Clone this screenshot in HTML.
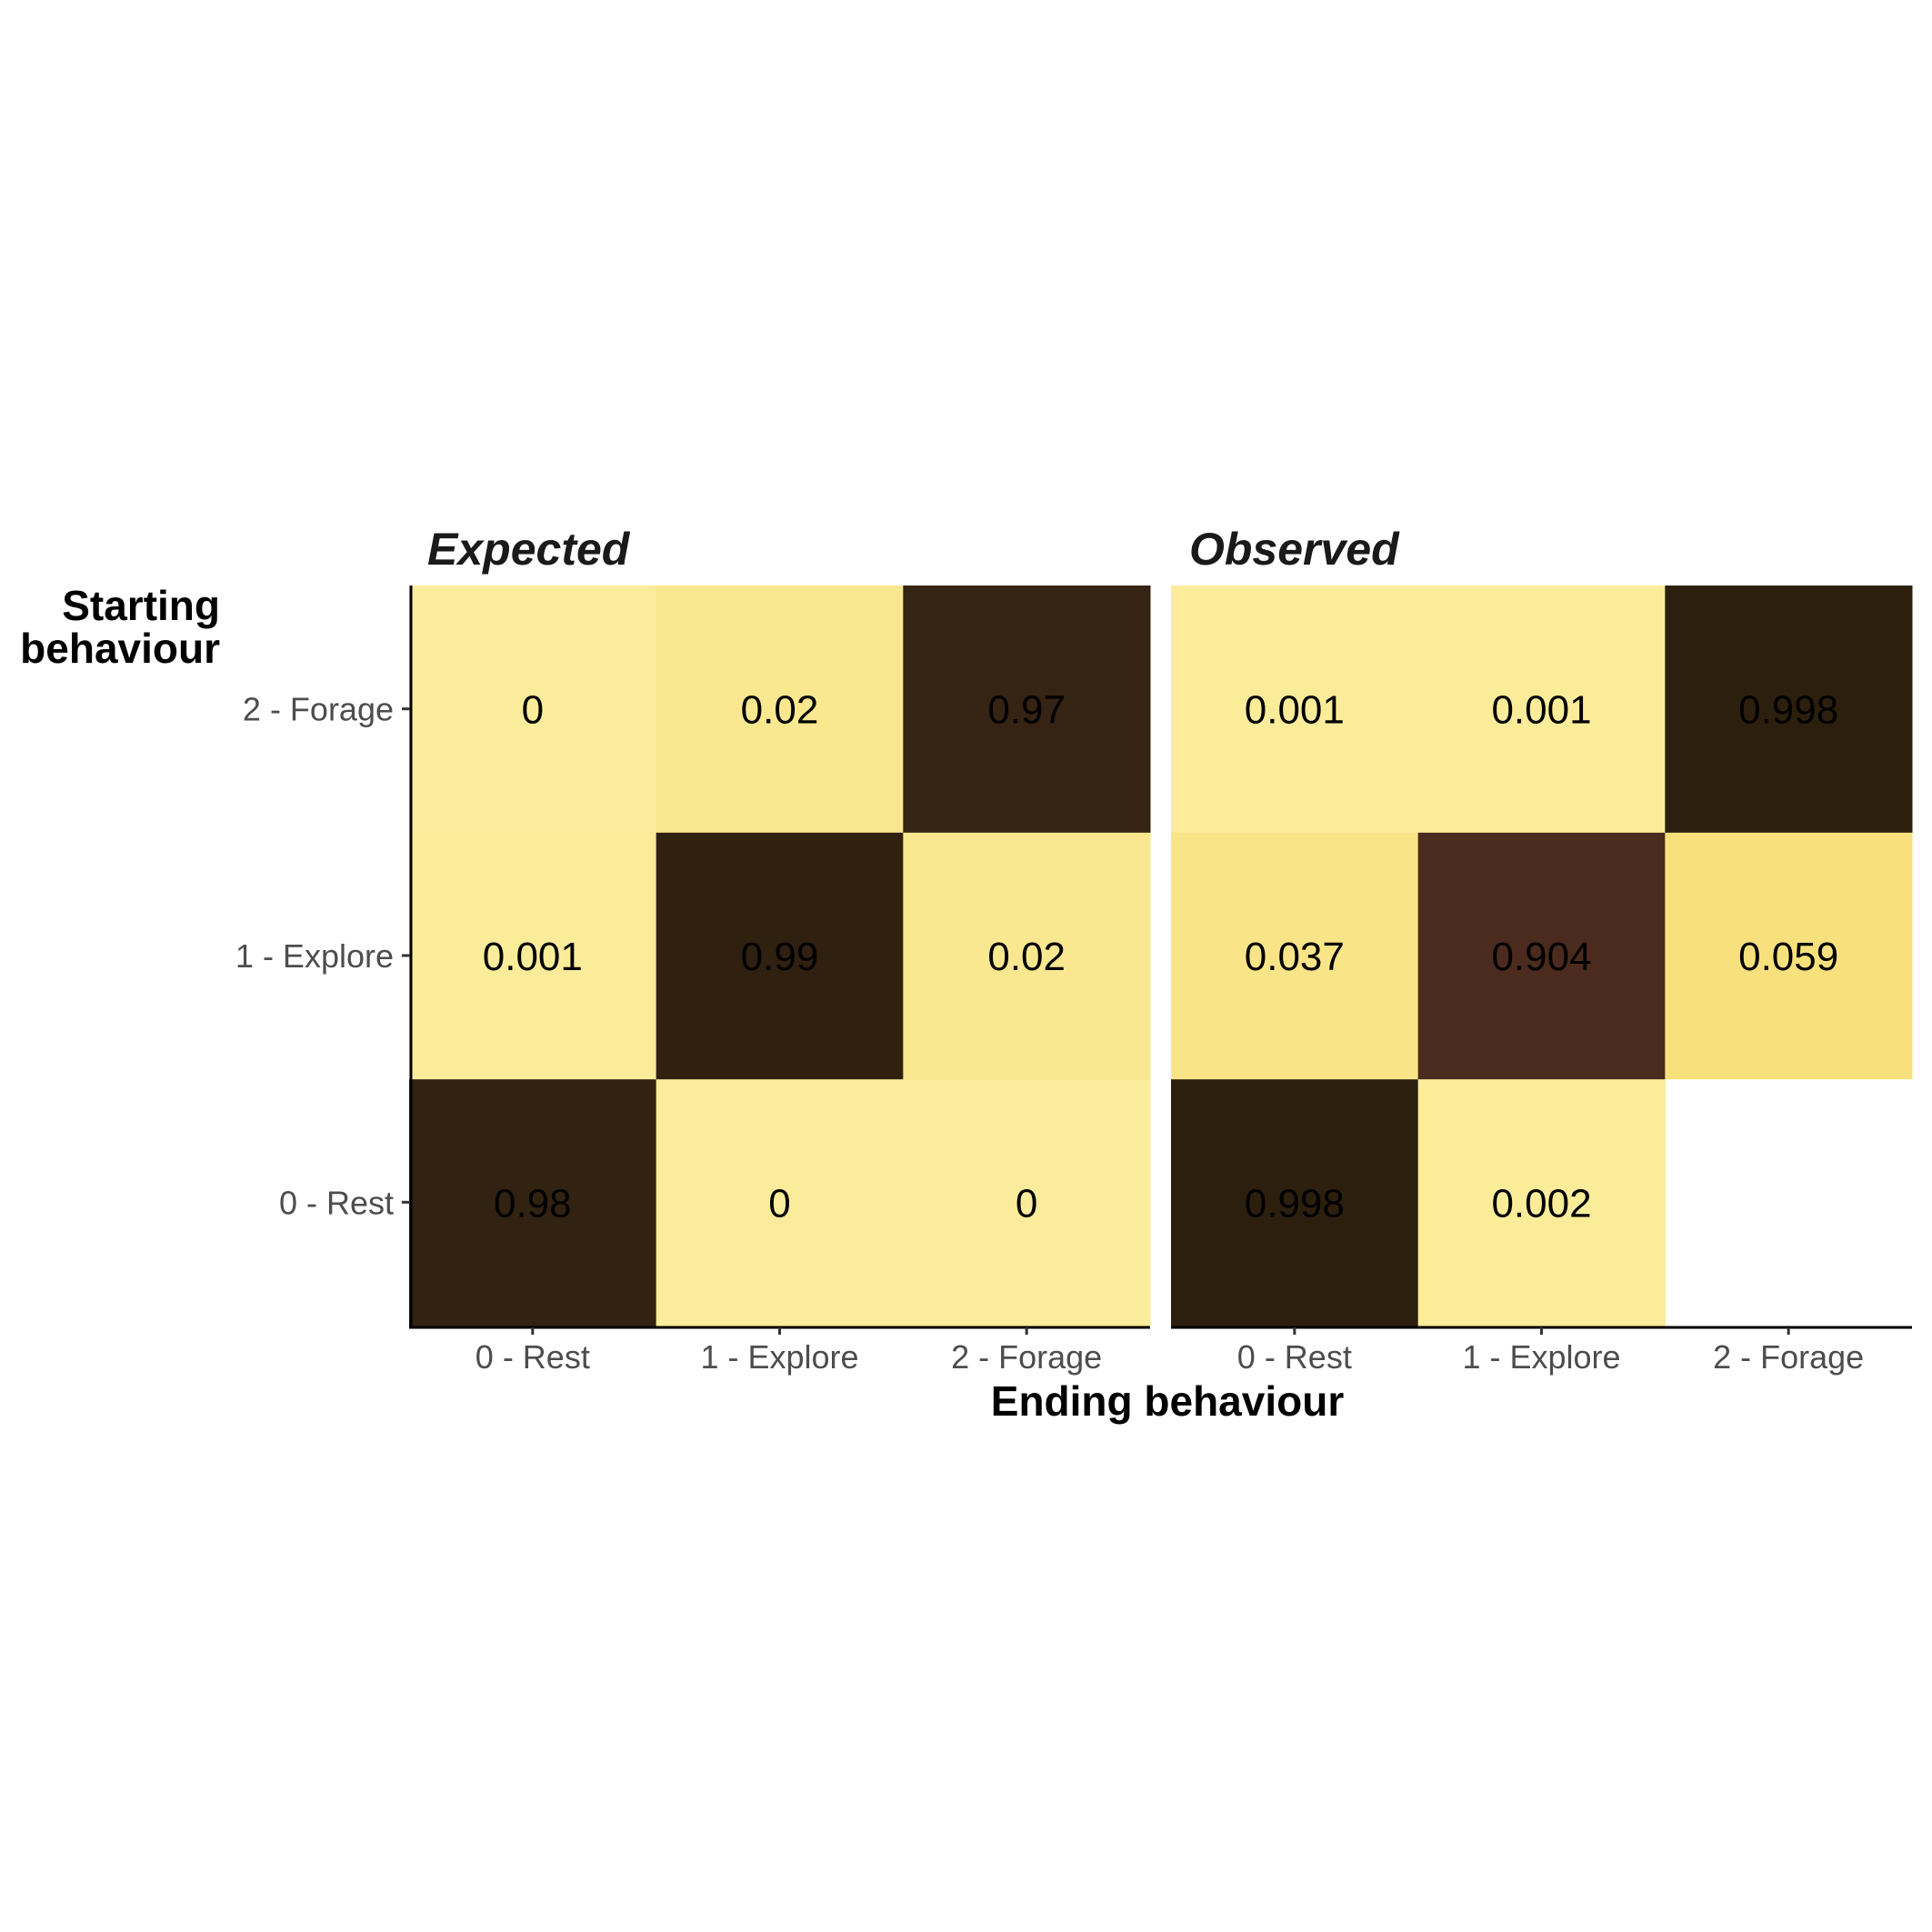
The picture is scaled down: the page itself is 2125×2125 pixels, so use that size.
<!DOCTYPE html>
<html><head><meta charset="utf-8">
<style>
body{margin:0;background:#fff;}
svg{display:block;font-family:"Liberation Sans",Arial,sans-serif;}
</style></head>
<body>
<svg id="chart" width="2125" height="2125" viewBox="0 0 2125 2125">
<g id="cells"></g>
<g id="axes"></g>
</svg>
<script>
const categories = ["0 - Rest","1 - Explore","2 - Forage"];
const panels = ["Expected","Observed"];
// values[row = starting][col = ending]
const expectedValues = [[0.98,0,0],[0.001,0.99,0.02],[0,0.02,0.97]];
const observedValues = [[0.998,0.002,null],[0.037,0.904,0.059],[0.001,0.001,0.998]];
const expectedLabels = [["0.98","0","0"],["0.001","0.99","0.02"],["0","0.02","0.97"]];
const observedLabels = [["0.998","0.002",""],["0.037","0.904","0.059"],["0.001","0.001","0.998"]];

const NS="http://www.w3.org/2000/svg";
const svg=document.getElementById('chart');
const cellsG=document.getElementById('cells');
const axesG=document.getElementById('axes');
const panelX0=[450,1288], panelW=815;
const yTop=644, yBot=1458;
const cw=panelW/3, ch=(yBot-yTop)/3;
function xPos(p,c){return panelX0[p]+c*cw;}
function yPos(r){return yBot-(r+1)*ch;}
const stops=[[0,[251,236,155]],[0.06,[248,225,124]],[0.9,[75,44,31]],[1,[44,31,14]]];
function color(v){
  for(let i=1;i<stops.length;i++){
    if(v<=stops[i][0]){const a=stops[i-1],b=stops[i];const t=(v-a[0])/(b[0]-a[0]);
      const c=a[1].map((x,k)=>Math.round(x+(b[1][k]-x)*t));return `rgb(${c.join(',')})`;}
  }
  return 'rgb(44,31,14)';
}
function el(tag,attrs,parent,text){const e=document.createElementNS(NS,tag);for(const k in attrs)e.setAttribute(k,attrs[k]);if(text!==undefined)e.textContent=text;parent.appendChild(e);return e;}

const allVals=[expectedValues,observedValues], allLabels=[expectedLabels,observedLabels];
for(let p=0;p<2;p++){
  for(let r=0;r<3;r++)for(let c=0;c<3;c++){
    const v=allVals[p][r][c]; if(v===null)continue;
    const rc=el('rect',{x:xPos(p,c),y:yPos(r),width:cw+0.5,height:ch+0.5,fill:color(v)},cellsG);
    
    
    const t=el('text',{x:xPos(p,c)+cw/2,y:yPos(r)+ch/2+16,'text-anchor':'middle','font-size':44,fill:'#000'},cellsG,allLabels[p][r][c]);
    
    
  }
  const tt=el('text',{x:panelX0[p]+20,y:621,'font-size':50,'font-weight':'bold','font-style':'italic',fill:'#1a1a1a'},axesG,panels[p]);
  
  
  const xl=el('line',{x1:panelX0[p],x2:panelX0[p]+panelW,y1:yBot+2,y2:yBot+2,stroke:'#000','stroke-width':3},axesG);
  
  
  for(let c=0;c<3;c++){
    const cx=xPos(p,c)+cw/2;
    const tk=el('line',{x1:cx,x2:cx,y1:yBot+2,y2:yBot+10,stroke:'#333','stroke-width':3},axesG);
    
    
    const tl=el('text',{x:cx,y:1505,'text-anchor':'middle','font-size':36,fill:'#4d4d4d'},axesG,categories[c]);
    
    
  }
}
const yl=el('line',{x1:452,x2:452,y1:yTop,y2:yBot+3,stroke:'#000','stroke-width':3},axesG);


for(let r=0;r<3;r++){
  const cy=yPos(r)+ch/2;
  const tk=el('line',{x1:442,x2:451,y1:cy,y2:cy,stroke:'#333','stroke-width':3},axesG);
  
  
  const tl=el('text',{x:433,y:cy+13,'text-anchor':'end','font-size':36,fill:'#4d4d4d'},axesG,categories[r]);
  
  
}
</script>
<div style="position:absolute;left:0;top:0;width:2125px;height:2125px;pointer-events:none;">
<svg width="2125" height="2125" style="position:absolute;left:0;top:0">
<text x="242" y="682" text-anchor="end" font-size="46" font-weight="bold" fill="#000" font-family="Liberation Sans, sans-serif"><tspan x="242" y="682">Starting</tspan><tspan x="242" y="729">behaviour</tspan></text>
<text x="1284" y="1557" text-anchor="middle" font-size="46" font-weight="bold" fill="#000" font-family="Liberation Sans, sans-serif">Ending behaviour</text>
</svg>
</div>
</body></html>
